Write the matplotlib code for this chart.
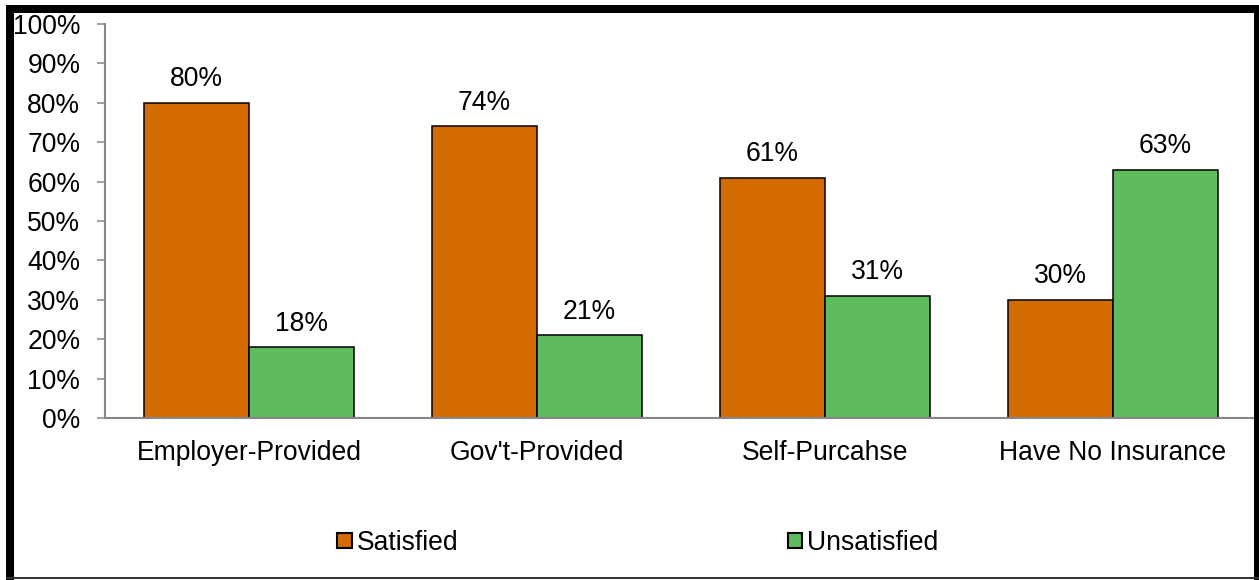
import matplotlib
matplotlib.use("Agg")
import matplotlib.pyplot as plt
import numpy as np
from matplotlib.patches import Rectangle
from matplotlib.ticker import FuncFormatter

plt.rcParams['font.family'] = ['Liberation Sans', 'DejaVu Sans']

categories = ['Employer-Provided', "Gov't-Provided", 'Self-Purcahse', 'Have No Insurance']
satisfied = [80, 74, 61, 30]
unsatisfied = [18, 21, 31, 63]
series_names = ['Satisfied', 'Unsatisfied']
colours = ['#D46B00', '#5EBC5E']

W, H = 1259, 580
fs = 19.1
grey = '#868686'

fig = plt.figure(figsize=(W / 100, H / 100), dpi=100)
ax = fig.add_axes([105 / W, 1 - 418 / H, (1257 - 105) / W, (418 - 24) / H])

x = np.arange(len(categories))
w = 105 / 288
bars = []
for i, (vals, c) in enumerate(zip([satisfied, unsatisfied], colours)):
    b = ax.bar(x + (i - 0.5) * w, vals, width=w, color=c, edgecolor='black',
               linewidth=1.1, label=series_names[i], zorder=3)
    bars.append(b)
    for rect, v in zip(b, vals):
        ax.annotate(f'{v}%', (rect.get_x() + rect.get_width() / 2, v),
                    xytext=(0, 11.9), textcoords='offset points',
                    ha='center', va='baseline', fontsize=fs)

ax.set_xlim(-0.5, len(categories) - 0.5)
ax.set_ylim(0, 100)
ax.set_yticks(np.arange(0, 101, 10))
ax.yaxis.set_major_formatter(FuncFormatter(lambda v, p: f'{int(v)}%'))
ax.set_xticks(x)
ax.set_xticklabels(categories)
ax.tick_params(axis='y', length=5.8, width=1.1, color=grey, pad=12, labelsize=fs)
ax.tick_params(axis='x', length=0, pad=16, labelsize=fs)

for s in ['top', 'right']:
    ax.spines[s].set_visible(False)
for s in ['left', 'bottom']:
    ax.spines[s].set_color(grey)
    ax.spines[s].set_linewidth(1.5)
ax.spines['bottom'].set_zorder(4)

leg = fig.legend(handles=bars, labels=series_names, ncol=2, loc='center',
                 bbox_to_anchor=(638 / W, 1 - 543 / H), frameon=False, fontsize=fs,
                 handlelength=0.54, handleheight=0.5, handletextpad=0.2,
                 columnspacing=12.4, borderpad=0)
for h in leg.legend_handles:
    h.set_linewidth(1.5)

# chart frame
def frame(x0, y0, x1, y1, col='black'):
    fig.add_artist(Rectangle((x0 / W, 1 - y1 / H), (x1 - x0) / W, (y1 - y0) / H,
                             transform=fig.transFigure, color=col, lw=0))

frame(6, 5, 14, 580)
frame(6, 5, 1262, 13)
frame(1254, 5, 1262, 580)
frame(6, 577, 1262, 579, '#333333')

fig.savefig('out.png', dpi=100)
